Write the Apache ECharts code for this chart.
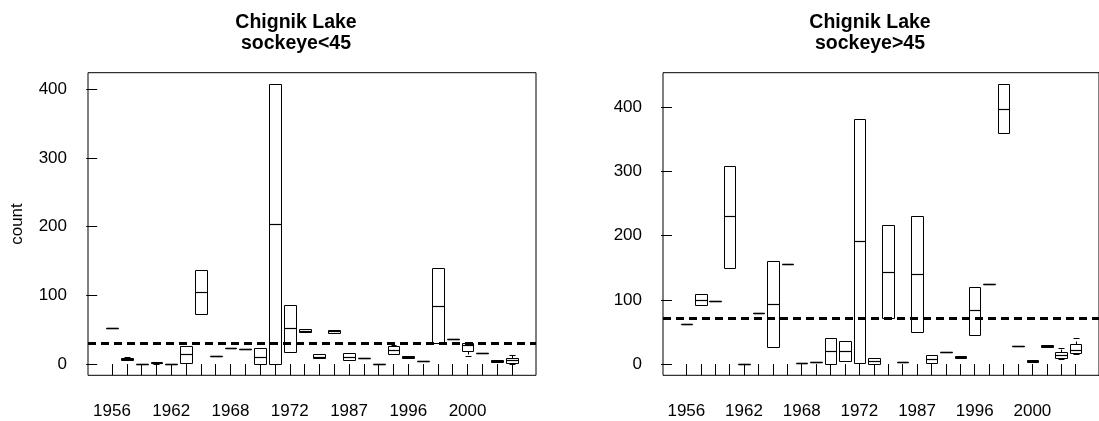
<!DOCTYPE html>
<html>
<head>
<meta charset="utf-8">
<script src="https://cdn.jsdelivr.net/npm/echarts@6/dist/echarts.min.js"></script>
<style>
  html, body { margin: 0; padding: 0; background: #fff; }
  #chart { width: 1099px; height: 421px; }
</style>
</head>
<body>
<div id="chart"></div>
<script>
// ---- data ----
const years = [1956, 1957, 1958, 1960, 1962, 1963, 1965, 1966, 1968, 1969, 1970, 1971,
               1972, 1973, 1985, 1986, 1987, 1988, 1992, 1994, 1996, 1997, 1998, 1999,
               2000, 2001, 2002, 2003];
const yTicks = [0, 100, 200, 300, 400];
const xLabelPositions = [1, 5, 9, 13, 17, 21, 25];

// sockeye<45 : min, Q1, median, Q3, max for each year
const smallMin = [53, 6, 0, 0.5, 0, 2, 73, 12.2, 23.3, 21.3, 0, 0, 17.5, 46.5, 8.3, 45.5, 5.5, 8.7, 0, 15, 8.3, 4.4, 30.5, 37, 12, 16.5, 2.5, 0];
const smallQ1  = [53, 6.5, 0, 1, 0, 2, 73, 12.2, 23.3, 21.3, 0, 0, 17.5, 46.5, 8.5, 45.5, 5.5, 8.7, 0, 15, 8.5, 4.4, 30.5, 37, 19, 16.5, 2.5, 2];
const smallMed = [53, 8, 0, 2, 0, 14.5, 105, 12.2, 23.3, 21.3, 10, 204, 53, 48.5, 11, 47.5, 10, 8.7, 0, 21, 10.5, 4.4, 85, 37, 28, 16.5, 5, 5.5];
const smallQ3  = [53, 9.5, 0, 3, 0, 26, 137.5, 12.2, 23.3, 21.3, 23, 408, 86, 51, 14.5, 49.5, 15.5, 8.7, 0, 27, 12.5, 4.4, 140, 37, 30, 16.5, 6.5, 8.7];
const smallMax = [53, 10, 0, 3, 0, 27, 137.5, 12.2, 23.3, 21.3, 23, 408, 86, 51, 14.5, 49.5, 15.5, 8.7, 0, 28, 12.5, 4.4, 140, 37, 30, 16.5, 6.5, 12.6];
const smallRef = 30;

// sockeye>45
const bigMin = [63, 92, 97.5, 149, 0, 80, 27, 155.5, 2, 2.5, 0, 5, 2, 0, 72, 2.5, 50, 1, 19, 9.5, 46, 124, 359, 28, 3.7, 26, 7.5, 15];
const bigQ1  = [63, 92, 97.5, 149, 0, 80, 27, 155.5, 2, 2.5, 0, 5, 2, 0, 72, 2.5, 50, 1, 19, 9.5, 46, 124, 359, 28, 3.7, 26, 10, 17.7];
const bigMed = [63, 100.5, 97.5, 230, 0, 80, 94, 155.5, 2, 2.5, 21, 21, 191, 4.5, 144, 2.5, 139.5, 7.5, 19, 11, 84, 124, 397.5, 28, 5, 27.5, 14, 22];
const bigQ3  = [63, 109, 97.5, 309, 0, 80, 161, 155.5, 2, 2.5, 41, 36, 381, 9, 217, 2.5, 230, 14, 19, 13, 120, 124, 436, 28, 6.2, 29.5, 18.7, 30.6];
const bigMax = [63, 109, 97.5, 309, 0, 80, 161, 155.5, 2, 2.5, 41, 36, 381, 9, 217, 2.5, 230, 14, 19, 13, 120, 124, 436, 28, 6.2, 29.5, 25.5, 41];
const bigRef = 72;

// ---- build ----
function rows(mn, q1, md, q3, mx) {
  return mn.map((v, i) => [i + 1, mn[i], q1[i], md[i], q3[i], mx[i]]);
}
function yRange(mn, mx) {
  const lo = Math.min(...mn), hi = Math.max(...mx);
  const ext = 0.04 * (hi - lo);
  return [lo - ext, hi + ext];
}
const n = years.length;
const xExt = 0.04 * n;
const xMin = 0.5 - xExt, xMax = n + 0.5 + xExt;

const FONT = '"Liberation Sans", Arial, Helvetica, sans-serif';
const snap = v => Math.round(v) + 0.5;

function renderBox(params, api) {
  const x = api.value(0);
  const vmin = api.value(1), q1 = api.value(2), med = api.value(3), q3 = api.value(4), vmax = api.value(5);
  const half = api.size([0.4, 0])[0];
  const staple = half / 2;
  const cx = api.coord([x, med])[0];
  const yQ1 = snap(api.coord([x, q1])[1]);
  const yQ3 = snap(api.coord([x, q3])[1]);
  const yMed = snap(api.coord([x, med])[1]);
  const yMin = snap(api.coord([x, vmin])[1]);
  const yMax = snap(api.coord([x, vmax])[1]);
  const xl = Math.round(cx - half) + 0.5, xr = Math.round(cx + half) + 0.5, xc = Math.round(cx) + 0.5;
  const ls = { stroke: '#000', lineWidth: 1, fill: null };
  const children = [];
  if (vmax > q3) {
    children.push({ type: 'line', shape: { x1: xc, y1: yQ3, x2: xc, y2: yMax }, style: Object.assign({ lineDash: [3, 3] }, ls) });
    children.push({ type: 'line', shape: { x1: Math.round(cx - staple) + 0.5, y1: yMax, x2: Math.round(cx + staple) + 0.5, y2: yMax }, style: ls });
  }
  if (vmin < q1) {
    children.push({ type: 'line', shape: { x1: xc, y1: yQ1, x2: xc, y2: yMin }, style: Object.assign({ lineDash: [3, 3] }, ls) });
    children.push({ type: 'line', shape: { x1: Math.round(cx - staple) + 0.5, y1: yMin, x2: Math.round(cx + staple) + 0.5, y2: yMin }, style: ls });
  }
  children.push({ type: 'rect', shape: { x: xl, y: yQ3, width: xr - xl, height: yQ1 - yQ3 }, style: { stroke: '#000', lineWidth: 1, fill: '#fff' } });
  children.push({ type: 'line', shape: { x1: xl, y1: yMed, x2: xr, y2: yMed }, style: { stroke: '#000', lineWidth: (q1 === q3) ? 1.6 : 1.2 } });
  return { type: 'group', children };
}

function xAxisCfg(gridIndex) {
  return {
    type: 'value', gridIndex, min: xMin, max: xMax,
    splitLine: { show: false },
    axisLine: { show: false },
    axisTick: { show: true, length: 11, lineStyle: { color: '#000' }, customValues: years.map((y, i) => i + 1) },
    axisLabel: {
      show: true, margin: 28, fontSize: 17, lineHeight: 17, color: '#000', fontFamily: FONT,
      customValues: xLabelPositions,
      formatter: v => String(years[Math.round(v) - 1])
    }
  };
}
function yAxisCfg(gridIndex, range, name) {
  return {
    type: 'value', gridIndex, min: range[0], max: range[1],
    name: name || '', nameLocation: 'middle', nameGap: 62, nameRotate: 90,
    nameTextStyle: { fontSize: 17, color: '#000', fontFamily: FONT },
    splitLine: { show: false },
    axisLine: { show: false },
    axisTick: { show: true, length: 11, lineStyle: { color: '#000' }, customValues: yTicks },
    axisLabel: { show: true, margin: 21, fontSize: 17, color: '#000', fontFamily: FONT, customValues: yTicks }
  };
}
function refLine(v) {
  return {
    silent: true, symbol: ['none', 'none'], animation: false,
    label: { show: false },
    lineStyle: { color: '#000', width: 3, type: [8, 5] },
    data: [{ yAxis: v }]
  };
}

const chart = echarts.init(document.getElementById('chart'), null, { renderer: 'canvas' });
chart.setOption({
  animation: false,
  backgroundColor: '#fff',
  title: [
    { text: 'Chignik Lake\nsockeye<45', left: 296, top: 12, padding: 0, textAlign: 'center',
      textStyle: { fontSize: 19.5, fontWeight: 'bold', lineHeight: 21, color: '#000', fontFamily: FONT } },
    { text: 'Chignik Lake\nsockeye>45', left: 870, top: 12, padding: 0, textAlign: 'center',
      textStyle: { fontSize: 19.5, fontWeight: 'bold', lineHeight: 21, color: '#000', fontFamily: FONT } }
  ],
  grid: [
    { left: 88, right: 563, top: 72.7, bottom: 45.7, show: true, borderColor: '#000', borderWidth: 1, backgroundColor: 'transparent' },
    { left: 663, right: -11, top: 72.7, bottom: 45.7, show: true, borderColor: '#000', borderWidth: 1, backgroundColor: 'transparent' }
  ],
  xAxis: [xAxisCfg(0), xAxisCfg(1)],
  yAxis: [yAxisCfg(0, yRange(smallMin, smallMax), 'count'), yAxisCfg(1, yRange(bigMin, bigMax))],
  series: [
    { type: 'custom', xAxisIndex: 0, yAxisIndex: 0, renderItem: renderBox,
      encode: { x: 0, y: [1, 2, 3, 4, 5] }, data: rows(smallMin, smallQ1, smallMed, smallQ3, smallMax),
      markLine: refLine(smallRef) },
    { type: 'custom', xAxisIndex: 1, yAxisIndex: 1, renderItem: renderBox,
      encode: { x: 0, y: [1, 2, 3, 4, 5] }, data: rows(bigMin, bigQ1, bigMed, bigQ3, bigMax),
      markLine: refLine(bigRef) }
  ]
});
</script>
</body>
</html>
